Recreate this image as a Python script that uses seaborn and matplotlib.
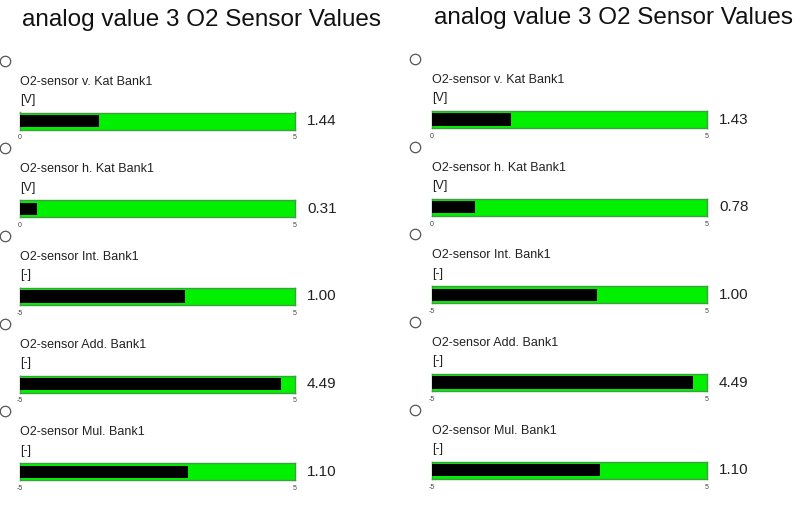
import matplotlib
matplotlib.use("Agg")
import matplotlib.pyplot as plt
import matplotlib.transforms as mtransforms
import pandas as pd
import seaborn as sns

sns.set_theme(style="white")
plt.rcParams["font.family"] = ["Liberation Sans", "DejaVu Sans"]

TITLE = "analog value 3 O2 Sensor Values"

sensor_names = [
    "O2-sensor v. Kat Bank1",
    "O2-sensor h. Kat Bank1",
    "O2-sensor Int. Bank1",
    "O2-sensor Add. Bank1",
    "O2-sensor Mul. Bank1",
]
units = ["[V]", "[V]", "[-]", "[-]", "[-]"]
range_low = [0, 0, -5, -5, -5]
range_high = [5, 5, 5, 5, 5]

values_left = [1.44, 0.31, 1.00, 4.49, 1.10]
values_right = [1.43, 0.78, 1.00, 4.49, 1.10]

GREEN = "#00f000"
EDGE = "#3f9f3f"

W, H = 800, 513
fig = plt.figure(figsize=(W / 100, H / 100), dpi=100)
fig.patch.set_facecolor("white")


def draw_panel(values, x0, title_y, circ_dx):
    fig.text((x0 + 2) / W, 1 - title_y / H, TITLE, fontsize=17.5, color="#111111",
             va="center", ha="left")
    df = pd.DataFrame({"name": sensor_names, "unit": units,
                       "lo": range_low, "hi": range_high, "value": values})
    for i, row in df.iterrows():
        bar_bottom = 129.5 + i * 87.7 - (1.5 if x0 > 400 else 0)
        ax = fig.add_axes([x0 / W, 1 - bar_bottom / H, 275 / W, 17 / H])
        span = row["hi"] - row["lo"]
        sns.barplot(x=[row["value"] - row["lo"]], y=[row["name"]], orient="h",
                    color="black", saturation=1, width=0.72, linewidth=0, ax=ax)
        for p in ax.patches:
            p.set_zorder(3)
        ax.set_facecolor(GREEN)
        ax.set_xlim(0, span)
        ax.set_ylim(0.5, -0.5)
        ax.set_yticks([])
        ax.set_xticks([0, span])
        ax.set_xticklabels([row["lo"], row["hi"]])
        ax.tick_params(axis="x", length=0, labelsize=5, pad=3.5, colors="#444444")
        ax.set_xlabel("")
        ax.set_ylabel("")
        for s in ax.spines.values():
            s.set_color(EDGE)
            s.set_linewidth(1.0)
        ax.annotate(row["name"], xy=(0, 1), xycoords="axes fraction",
                    xytext=(0, 22.3), textcoords="offset points",
                    fontsize=9, color="#222222", va="center", ha="left")
        ax.annotate(row["unit"], xy=(0, 1), xycoords="axes fraction",
                    xytext=(0, 9.1), textcoords="offset points",
                    fontsize=9, color="#222222", va="center", ha="left")
        ax.annotate(f"{row['value']:.2f}", xy=(1, 0.5), xycoords="axes fraction",
                    xytext=(8.6, 0), textcoords="offset points",
                    fontsize=11, color="#222222", va="center", ha="left")
        # radio-button circle above each gauge
        tr = mtransforms.offset_copy(ax.transAxes, fig=fig, x=circ_dx, y=52,
                                     units="dots")
        ax.plot([0], [1], marker="o", markersize=7.5, markerfacecolor="white",
                markeredgecolor="#555555", markeredgewidth=0.9,
                transform=tr, clip_on=False)


draw_panel(values_left, 20, 20, -15)
draw_panel(values_right, 432, 18, -17)

fig.savefig("out.png", dpi=100, facecolor="white")
